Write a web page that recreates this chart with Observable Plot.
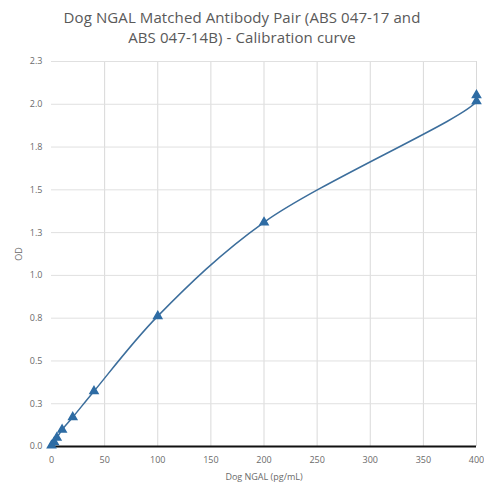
<!DOCTYPE html>
<html><head><meta charset="utf-8">
<script src="https://cdn.jsdelivr.net/npm/d3@7"></script>
<script src="https://cdn.jsdelivr.net/npm/@observablehq/plot@0.6"></script>
<style>
body{margin:0;background:#fff;}
#title{height:50px;width:484px;text-align:center;font-family:"Open Sans",sans-serif;font-size:15px;line-height:20px;color:#595959;padding-top:7px;box-sizing:border-box;letter-spacing:0.1px;}
</style></head><body>
<div id="title">Dog NGAL Matched Antibody Pair (ABS 047-17 and<br>ABS 047-14B) - Calibration curve</div>
<div id="chart"></div>
<script>
const concentration = [0, 2.5, 5, 10, 20, 40, 100, 200, 400, 400];
const od = [0.006, 0.025, 0.051, 0.098, 0.171, 0.323, 0.762, 1.31, 2.018, 2.053];
const yTicks = [0, 0.25, 0.5, 0.75, 1, 1.25, 1.5, 1.75, 2, 2.25];
const yTickLabels = ["0.0","0.3","0.5","0.8","1.0","1.3","1.5","1.8","2.0","2.3"];
const xTicks = [0, 50, 100, 150, 200, 250, 300, 350, 400];

const data = concentration.map((x, i) => ({x, y: od[i]}));
const labelOf = new Map(yTicks.map((t, i) => [t, yTickLabels[i]]));

const plot = Plot.plot({
  width: 484,
  height: 435,
  marginTop: 11,
  marginBottom: 39,
  marginLeft: 51,
  marginRight: 8,
  style: {fontFamily: "'Open Sans', sans-serif", fontSize: "9px", color: "#6a6a6a", background: "#fff"},
  x: {domain: [0, 400], ticks: xTicks, tickSize: 0, tickPadding: 10, label: "Dog NGAL (pg/mL)", labelAnchor: "center", labelArrow: "none", labelOffset: 33},
  y: {domain: [0, 2.25], ticks: yTicks, tickSize: 0, tickPadding: 9, tickFormat: d => labelOf.get(d), label: "OD", labelAnchor: "center", labelArrow: "none", labelOffset: 36},
  marks: [
    Plot.gridX(xTicks.filter(d => d > 0), {stroke: "#d9d9d9", strokeOpacity: 1}),
    Plot.gridY(yTicks.filter(d => d > 0), {stroke: "#e0e0e0", strokeOpacity: 1}),
    Plot.ruleY([0], {stroke: "#111", strokeWidth: 2}),
    Plot.line(data, {x: "x", y: "y", curve: "catmull-rom", stroke: "#3c6e9c", strokeWidth: 1.5}),
    Plot.dot(data, {x: "x", y: "y", symbol: "triangle", r: 3, fill: "#2e6ca4", stroke: "#2e6ca4"})
  ]
});
document.getElementById("chart").appendChild(plot);
</script>
</body></html>
